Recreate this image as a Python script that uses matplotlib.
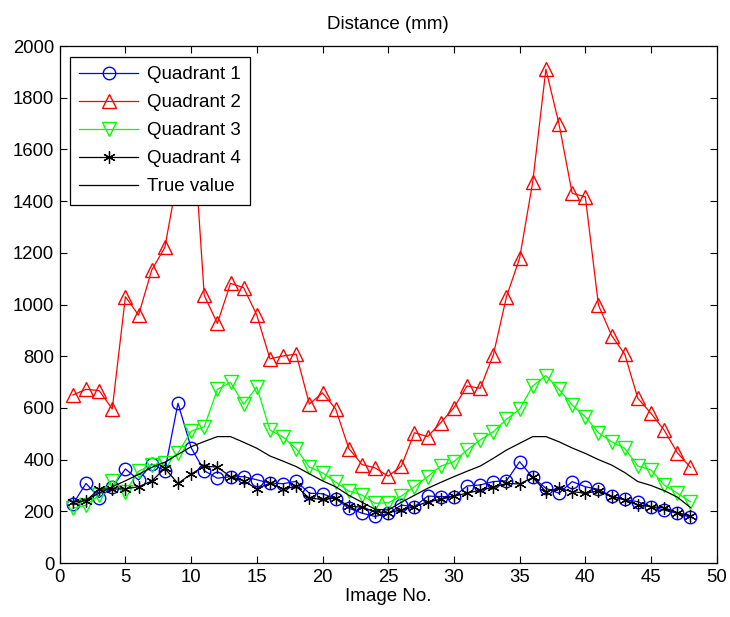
import matplotlib.pyplot as plt
import numpy as np

plt.rcParams["font.family"] = ["Liberation Sans", "DejaVu Sans"]

# image index
image_no = np.arange(1, 49)

# estimated distances (mm) per quadrant
quadrant_1 = [228, 308, 253, 293, 364, 321, 383, 357, 618, 446, 357, 328,
              334, 334, 322, 309, 307, 316, 270, 268, 248, 212, 193, 180,
              192, 224, 218, 259, 257, 257, 298, 302, 315, 318, 392, 331,
              289, 270, 315, 295, 285, 259, 246, 237, 218, 205, 192, 177]
quadrant_2 = [650, 672, 667, 596, 1030, 959, 1133, 1221, 1500, 1800, 1035, 927,
              1082, 1065, 959, 790, 801, 808, 615, 658, 596, 443, 381, 368,
              336, 375, 504, 489, 543, 601, 685, 676, 805, 1030, 1179, 1475,
              1910, 1698, 1430, 1417, 998, 880, 808, 637, 579, 514, 427, 370]
quadrant_3 = [212, 224, 263, 318, 276, 355, 379, 388, 425, 510, 527, 672,
              699, 614, 681, 514, 487, 442, 371, 349, 313, 278, 263, 231,
              233, 259, 295, 334, 375, 392, 437, 476, 508, 556, 595, 685,
              725, 672, 611, 566, 504, 469, 444, 375, 360, 302, 270, 237]
quadrant_4 = [237, 241, 286, 286, 287, 295, 317, 366, 308, 344, 375, 371,
              334, 318, 287, 309, 287, 296, 251, 246, 251, 220, 216, 198,
              195, 205, 218, 237, 246, 259, 270, 282, 293, 308, 306, 331,
              276, 289, 276, 270, 279, 257, 244, 224, 218, 214, 195, 182]
true_value = [225, 245, 270, 295, 318, 343, 370, 390, 420, 450, 470, 489,
              489, 467, 444, 414, 394, 373, 345, 318, 295, 262, 235, 208,
              205, 235, 262, 289, 312, 334, 355, 375, 405, 437, 463, 489,
              489, 469, 445, 424, 400, 379, 350, 315, 300, 280, 255, 215]

fig = plt.figure(figsize=(7.3, 6.17), dpi=100)
ax = fig.add_axes([0.0818, 0.0875, 0.90, 0.8379])

asterisk = (6, 2, 0)
ax.plot(image_no, quadrant_1, color="blue", marker="o", markerfacecolor="none",
        markersize=9, linewidth=0.9, label="Quadrant 1")
ax.plot(image_no, quadrant_2, color="red", marker="^", markerfacecolor="none",
        markersize=10, linewidth=0.9, label="Quadrant 2")
ax.plot(image_no, quadrant_3, color="#00ff00", marker="v", markerfacecolor="none",
        markersize=10, linewidth=0.9, label="Quadrant 3")
ax.plot(image_no, quadrant_4, color="black", marker=asterisk, markersize=9,
        markeredgewidth=0.9, linewidth=0.9, label="Quadrant 4")
ax.plot(image_no, true_value, color="black", linewidth=0.9, label="True value")

ax.set_xlim(0, 50)
ax.set_ylim(0, 2000)
ax.set_xticks(np.arange(0, 51, 5))
ax.set_yticks(np.arange(0, 2001, 200))
ax.tick_params(direction="in", top=True, right=True, labelsize=13.3,
               length=5, width=0.8, pad=4)
for sp in ax.spines.values():
    sp.set_linewidth(0.9)

ax.set_title("Distance (mm)", fontsize=13.5, pad=12)
ax.set_xlabel("Image No.", fontsize=13.5, labelpad=2)

leg = ax.legend(loc="upper left", bbox_to_anchor=(0.0157, 0.979), fontsize=13.5,
                fancybox=False, framealpha=1, edgecolor="black",
                handlelength=3.15, handletextpad=0.45, borderpad=0.5,
                labelspacing=0.58, borderaxespad=0)
leg.get_frame().set_linewidth(0.9)

fig.savefig("out.png")
